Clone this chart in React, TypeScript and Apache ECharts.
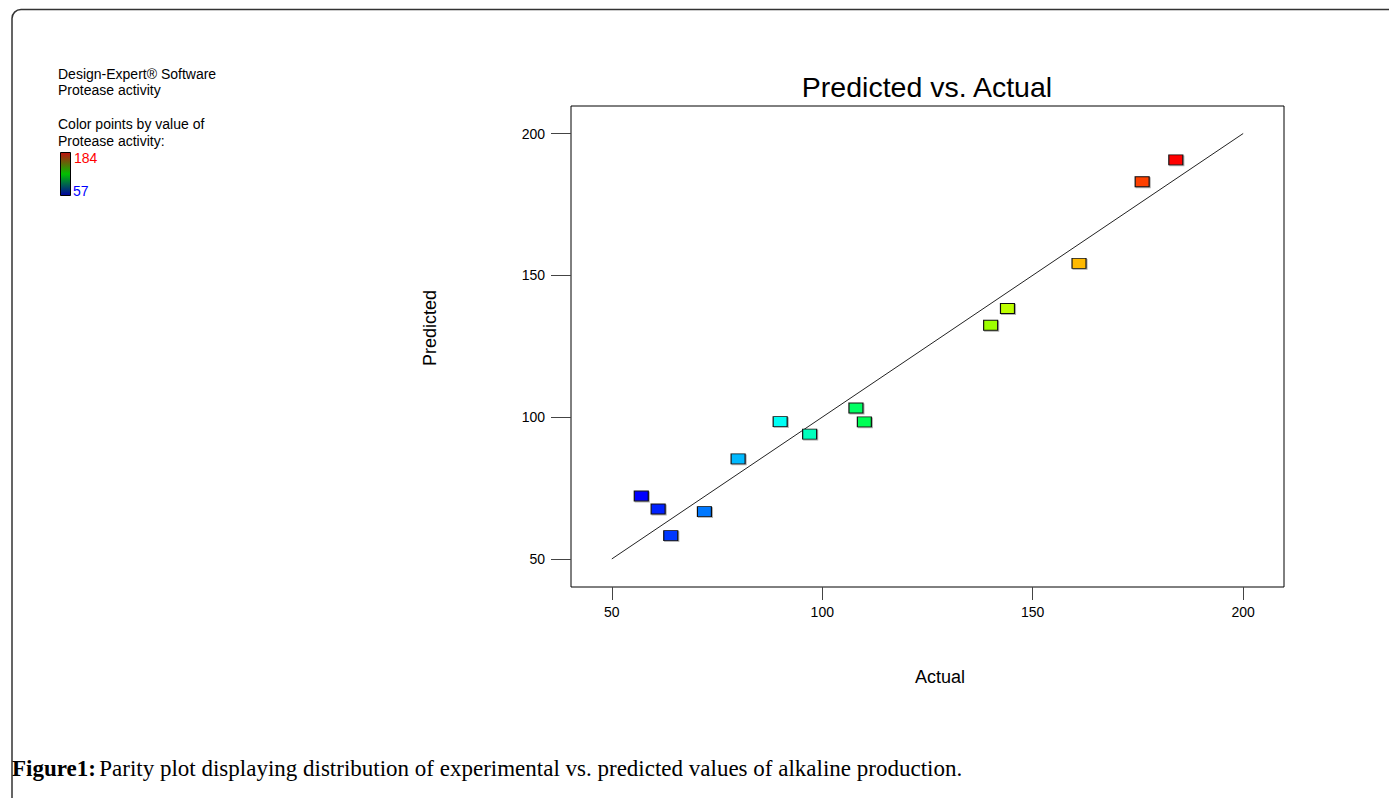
import React, { useEffect, useRef } from "react";
import * as echarts from "echarts";

const actual = [57, 61, 64, 72, 80, 90, 97, 108, 110, 140, 144, 161, 176, 184];
const predicted = [72.2, 67.6, 58.2, 66.7, 85.3, 98.4, 94.0, 103.2, 98.3, 132.4, 138.3, 154.2, 183.0, 190.7];
const tickValues = [50, 100, 150, 200];
const parityLine = [[50, 50], [200, 200]];
const colorMin = 57;
const colorMax = 184;
const rainbow = ["#0000ff", "#00ffff", "#00ff00", "#ffff00", "#ff0000"];

export default function App() {
  const ref = useRef<HTMLDivElement>(null);
  useEffect(() => {
    if (!ref.current) return;
    const chart = echarts.init(ref.current, null, { renderer: "svg" });
    const points = actual.map((a, i) => [a, predicted[i]]);
    const font = "Arial, 'Liberation Sans', sans-serif";
    const serif = "'Liberation Serif', 'DejaVu Serif', serif";
    chart.setOption({
      animation: false,
      backgroundColor: "#ffffff",
      grid: {
        left: 571,
        right: 105,
        top: 106,
        bottom: 211,
        show: true,
        borderColor: "#000",
        borderWidth: 1,
        backgroundColor: "transparent",
      },
      xAxis: {
        type: "value",
        min: 40.3,
        max: 209.7,
        axisLine: { show: false },
        splitLine: { show: false },
        axisTick: { show: true, length: 13, lineStyle: { color: "#444" }, customValues: tickValues },
        axisLabel: { color: "#000", fontSize: 14, fontFamily: font, margin: 18, customValues: tickValues },
      },
      yAxis: {
        type: "value",
        min: 40.1,
        max: 209.7,
        axisLine: { show: false },
        splitLine: { show: false },
        axisTick: { show: true, length: 20, lineStyle: { color: "#444" }, customValues: tickValues },
        axisLabel: { color: "#000", fontSize: 14, fontFamily: font, margin: 26, customValues: tickValues },
      },
      visualMap: {
        show: false,
        type: "continuous",
        min: colorMin,
        max: colorMax,
        dimension: 0,
        seriesIndex: 1,
        inRange: { color: rainbow },
      },
      series: [
        {
          type: "line",
          data: parityLine,
          showSymbol: false,
          symbol: "none",
          lineStyle: { color: "#222", width: 1 },
          z: 1,
          silent: true,
        },
        {
          type: "scatter",
          data: points,
          symbol: "rect",
          symbolSize: [14, 10],
          itemStyle: {
            opacity: 1,
            borderColor: "#111",
            borderWidth: 1,
            shadowColor: "rgba(0,0,0,0.3)",
            shadowOffsetX: 1,
            shadowOffsetY: 1,
            shadowBlur: 1,
          },
          z: 3,
        },
      ],
      graphic: [
        {
          type: "rect",
          shape: { x: 12, y: 9.5, width: 1500, height: 900, r: [9, 0, 0, 0] },
          style: { fill: "none", stroke: "#333", lineWidth: 1.5 },
          silent: true,
        },
        {
          type: "text",
          x: 927,
          y: 87,
          style: {
            text: "Predicted vs. Actual",
            fontSize: 28.5,
            fontFamily: font,
            fill: "#000",
            align: "center",
            verticalAlign: "middle",
          },
        },
        {
          type: "text",
          x: 940,
          y: 677,
          style: {
            text: "Actual",
            fontSize: 18,
            fontFamily: font,
            fill: "#000",
            align: "center",
            verticalAlign: "middle",
          },
        },
        {
          type: "text",
          x: 430,
          y: 328,
          rotation: Math.PI / 2,
          style: {
            text: "Predicted",
            fontSize: 18,
            fontFamily: font,
            fill: "#000",
            align: "center",
            verticalAlign: "middle",
          },
        },
        {
          type: "text",
          x: 58,
          y: 74,
          style: { text: "Design-Expert® Software", fontSize: 14, fontFamily: font, fill: "#000", verticalAlign: "middle" },
        },
        {
          type: "text",
          x: 58,
          y: 90,
          style: { text: "Protease activity", fontSize: 14, fontFamily: font, fill: "#000", verticalAlign: "middle" },
        },
        {
          type: "text",
          x: 58,
          y: 124,
          style: { text: "Color points by value of", fontSize: 14, fontFamily: font, fill: "#000", verticalAlign: "middle" },
        },
        {
          type: "text",
          x: 58,
          y: 141,
          style: { text: "Protease activity:", fontSize: 14, fontFamily: font, fill: "#000", verticalAlign: "middle" },
        },
        {
          type: "rect",
          shape: { x: 60.5, y: 152.5, width: 10, height: 43 },
          style: {
            fill: new echarts.graphic.LinearGradient(0, 0, 0, 1, [
              { offset: 0, color: "#c01010" },
              { offset: 0.5, color: "#00c000" },
              { offset: 1, color: "#0000a0" },
            ]),
            stroke: "#000",
            lineWidth: 1,
          },
        },
        {
          type: "text",
          x: 74,
          y: 158,
          style: { text: String(colorMax), fontSize: 14, fontFamily: font, fill: "#ff0000", verticalAlign: "middle" },
        },
        {
          type: "text",
          x: 73,
          y: 191,
          style: { text: String(colorMin), fontSize: 14, fontFamily: font, fill: "#0000ff", verticalAlign: "middle" },
        },
        {
          type: "text",
          x: 12,
          y: 768,
          style: {
            text: "{b|Figure1:} {r|Parity plot displaying distribution of experimental vs. predicted values of alkaline production.}",
            verticalAlign: "middle",
            rich: {
              b: { fontSize: 23, fontWeight: "bold", fontFamily: serif, fill: "#000" },
              r: { fontSize: 23, fontFamily: serif, fill: "#000" },
            },
          },
        },
      ],
    });
    return () => chart.dispose();
  }, []);
  return (
    <div
      ref={ref}
      style={{ position: "absolute", left: 0, top: 0, width: 1389, height: 798, background: "#fff" }}
    />
  );
}
